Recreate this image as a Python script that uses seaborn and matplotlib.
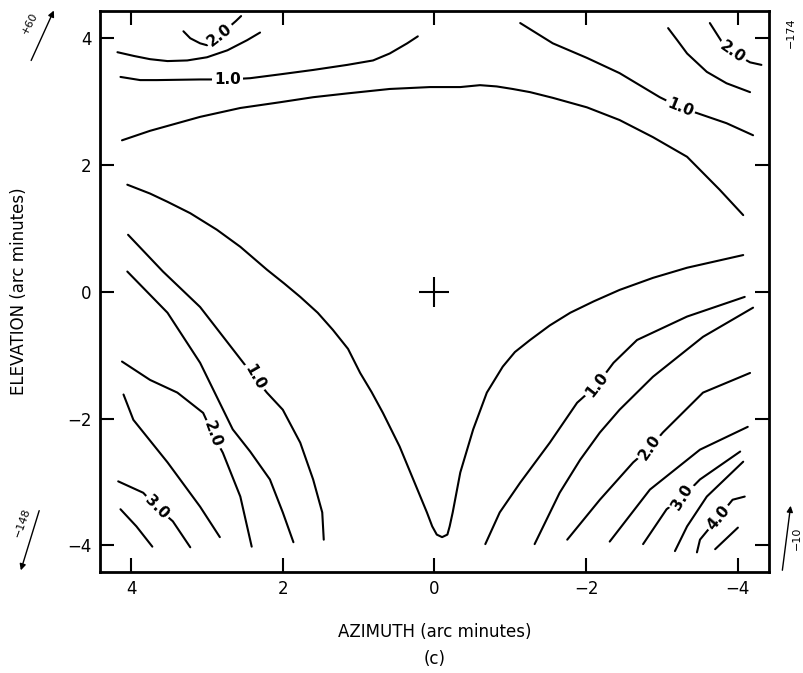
import matplotlib
matplotlib.use("Agg")
import matplotlib.pyplot as plt
import seaborn as sns

# contour traces: azimuth (x) and elevation (y), arc minutes
# 0.5 level, upper arc
c05_top_az = [4.12, 3.75, 3.09, 2.56, 2.04, 1.60, 1.15, 0.59, 0.06, -0.34, -0.60, -0.82,
              -1.03, -1.26, -1.56, -2.01, -2.44, -2.88, -3.33, -3.76, -4.07]
c05_top_el = [2.39, 2.54, 2.76, 2.90, 2.99, 3.07, 3.13, 3.20, 3.23, 3.23, 3.26, 3.24,
              3.20, 3.15, 3.06, 2.91, 2.71, 2.44, 2.13, 1.61, 1.21]
# 0.5 level, lower V
c05_low_az = [4.05, 3.75, 3.52, 3.22, 2.87, 2.56, 2.21, 1.98, 1.77, 1.54, 1.34, 1.14, 0.98,
              0.83, 0.68, 0.46, 0.28, 0.10, 0.03, -0.03, -0.10, -0.17, -0.20, -0.24, -0.34,
              -0.51, -0.69, -0.90, -1.06, -1.26, -1.52, -1.79, -2.10, -2.44, -2.88, -3.33, -4.07]
c05_low_el = [1.69, 1.55, 1.42, 1.24, 0.98, 0.71, 0.35, 0.13, -0.08, -0.33, -0.60, -0.90, -1.28,
              -1.58, -1.91, -2.44, -2.96, -3.48, -3.70, -3.83, -3.87, -3.83, -3.70, -3.48, -2.85,
              -2.17, -1.59, -1.18, -0.95, -0.76, -0.53, -0.33, -0.15, 0.03, 0.22, 0.38, 0.58]

# 1.0 level
c10_tl_az = [4.14, 3.88, 3.66, 3.09, 2.73, 2.43, 2.04, 1.60, 1.15, 0.81, 0.59, 0.36, 0.22]
c10_tl_el = [3.39, 3.34, 3.34, 3.35, 3.35, 3.37, 3.43, 3.50, 3.58, 3.65, 3.76, 3.92, 4.03]
c10_tr_az = [-1.13, -1.56, -2.01, -2.44, -2.97, -3.24, -3.46, -3.85, -4.20]
c10_tr_el = [4.24, 3.92, 3.69, 3.45, 3.07, 2.91, 2.82, 2.66, 2.47]
c10_ll_az = [4.04, 3.58, 3.09, 2.52, 2.37, 2.21, 2.00, 1.77, 1.60, 1.48, 1.46]
c10_ll_el = [0.90, 0.32, -0.24, -1.12, -1.35, -1.59, -1.86, -2.38, -2.96, -3.48, -3.91]
c10_lr_az = [-4.09, -3.33, -2.67, -2.36, -2.14, -1.88, -1.52, -1.13, -0.86, -0.67]
c10_lr_el = [-0.08, -0.39, -0.76, -1.12, -1.47, -1.75, -2.38, -3.01, -3.48, -3.98]

# 1.5 level
c15_tl_az = [4.18, 3.96, 3.75, 3.52, 3.26, 3.00, 2.73, 2.47, 2.30]
c15_tl_el = [3.78, 3.72, 3.67, 3.64, 3.65, 3.70, 3.81, 3.97, 4.09]
c15_tr_az = [-3.08, -3.20, -3.33, -3.59, -3.85, -4.16]
c15_tr_el = [4.16, 3.97, 3.76, 3.47, 3.29, 3.15]
c15_ll_az = [4.05, 3.52, 3.09, 2.66, 2.43, 2.17, 2.00, 1.86]
c15_ll_el = [0.32, -0.33, -1.12, -2.17, -2.52, -2.96, -3.48, -3.95]
c15_lr_az = [-4.20, -3.54, -2.88, -2.44, -2.18, -1.92, -1.65, -1.32]
c15_lr_el = [-0.25, -0.71, -1.34, -1.86, -2.22, -2.65, -3.17, -3.98]

# 2.0 level
c20_tl_az = [3.31, 3.22, 3.09, 3.00, 2.83, 2.62, 2.55]
c20_tl_el = [4.11, 4.00, 3.92, 3.89, 4.05, 4.27, 4.35]
c20_tr_az = [-3.63, -3.79, -3.93, -4.16, -4.31]
c20_tr_el = [4.24, 3.94, 3.78, 3.62, 3.58]
c20_ll_az = [4.12, 3.75, 3.39, 3.05, 2.92, 2.79, 2.56, 2.41]
c20_ll_el = [-1.10, -1.39, -1.59, -1.91, -2.25, -2.54, -3.23, -4.02]
c20_lr_az = [-4.16, -3.54, -3.01, -2.84, -2.62, -2.18, -1.75]
c20_lr_el = [-1.28, -1.59, -2.22, -2.46, -2.69, -3.28, -3.91]

# 2.5 level
c25_ll_az = [4.10, 3.97, 3.52, 3.09, 2.83]
c25_ll_el = [-1.62, -2.02, -2.69, -3.39, -3.87]
c25_lr_az = [-4.13, -3.50, -2.84, -2.31]
c25_lr_el = [-2.13, -2.49, -3.12, -3.94]

# 3.0 level
c30_ll_az = [4.17, 3.84, 3.66, 3.45, 3.22]
c30_ll_el = [-2.99, -3.17, -3.40, -3.62, -4.03]
c30_lr_az = [-4.03, -3.50, -3.27, -3.06, -2.75]
c30_lr_el = [-2.52, -2.96, -3.24, -3.43, -3.98]

# 3.5 level
c35_ll_az = [4.14, 3.93, 3.72]
c35_ll_el = [-3.43, -3.70, -4.02]
c35_lr_az = [-4.07, -3.59, -3.33, -3.17]
c35_lr_el = [-2.68, -3.23, -3.70, -4.09]

# 4.0 and 4.5 levels
c40_lr_az = [-4.09, -3.93, -3.74, -3.50, -3.46]
c40_lr_el = [-3.23, -3.28, -3.56, -3.91, -4.11]
c45_lr_az = [-4.00, -3.70]
c45_lr_el = [-3.72, -4.06]

# contour labels
lab_text = ["2.0", "1.0", "1.0", "2.0", "1.0", "2.0", "3.0", "1.0", "2.0", "3.0", "4.0"]
lab_az = [2.83, 2.73, -3.24, -3.93, 2.37, 2.92, 3.66, -2.14, -2.84, -3.27, -3.74]
lab_el = [4.05, 3.35, 2.91, 3.78, -1.35, -2.25, -3.40, -1.47, -2.46, -3.24, -3.56]
lab_rot = [38, 0, -22, -35, -60, -70, -45, 52, 55, 58, 50]

lines = [
    (c05_top_az, c05_top_el), (c05_low_az, c05_low_el),
    (c10_tl_az, c10_tl_el), (c10_tr_az, c10_tr_el), (c10_ll_az, c10_ll_el), (c10_lr_az, c10_lr_el),
    (c15_tl_az, c15_tl_el), (c15_tr_az, c15_tr_el), (c15_ll_az, c15_ll_el), (c15_lr_az, c15_lr_el),
    (c20_tl_az, c20_tl_el), (c20_tr_az, c20_tr_el), (c20_ll_az, c20_ll_el), (c20_lr_az, c20_lr_el),
    (c25_ll_az, c25_ll_el), (c25_lr_az, c25_lr_el),
    (c30_ll_az, c30_ll_el), (c30_lr_az, c30_lr_el),
    (c35_ll_az, c35_ll_el), (c35_lr_az, c35_lr_el),
    (c40_lr_az, c40_lr_el), (c45_lr_az, c45_lr_el),
]

sns.set_style("ticks")
plt.rcParams['font.family'] = ['DejaVu Sans']
plt.rcParams['text.color'] = 'black'
plt.rcParams['axes.labelcolor'] = 'black'

fig = plt.figure(figsize=(8.04, 6.73), dpi=100)
ax = fig.add_axes([100 / 804, 1 - 572 / 673, 669 / 804, 561 / 673])

for az, el in lines:
    sns.lineplot(x=az, y=el, sort=False, estimator=None, color="black",
                 linewidth=1.5, ax=ax, legend=False)

for t, x, y, r in zip(lab_text, lab_az, lab_el, lab_rot):
    ax.text(x, y, t, rotation=r, ha="center", va="center", fontsize=11,
            fontweight="bold", rotation_mode="anchor",
            bbox=dict(facecolor="white", edgecolor="none", pad=1.5))

# boresight cross
sns.scatterplot(x=[0], y=[0], marker="+", s=480, linewidth=1.5, color="black", ax=ax)

ax.set_xlim(4.41, -4.41)
ax.set_ylim(-4.42, 4.43)
ax.set_xticks([4, 2, 0, -2, -4])
ax.set_yticks([-4, -2, 0, 2, 4])
ax.tick_params(direction="in", length=10, width=1.5, top=True, right=True,
               labelsize=12, pad=6, colors="black")
for s in ax.spines.values():
    s.set_linewidth(2)
    s.set_color("black")

ax.set_xlabel("AZIMUTH (arc minutes)\n(c)", fontsize=12, labelpad=18, linespacing=1.65)
ax.set_ylabel("ELEVATION (arc minutes)", fontsize=12, labelpad=28)

# orientation notes at the corners
fig.text(30, 650, "+60", rotation=62, fontsize=8, ha="center", va="center",
         transform=None)
ax.annotate("", xy=(55, 665), xytext=(30, 610), xycoords="figure pixels",
            textcoords="figure pixels",
            arrowprops=dict(arrowstyle="-|>", color="black", lw=1, mutation_scale=9))
fig.text(791, 640, "\u2212174", rotation=90, fontsize=8, ha="center", va="center",
         transform=None)
fig.text(22, 150, "\u2212148", rotation=70, fontsize=8, ha="center", va="center",
         transform=None)
ax.annotate("", xy=(20, 100), xytext=(40, 165), xycoords="figure pixels",
            textcoords="figure pixels",
            arrowprops=dict(arrowstyle="-|>", color="black", lw=1, mutation_scale=9))
fig.text(797, 135, "\u221210", rotation=90, fontsize=8, ha="center", va="center",
         transform=None)
ax.annotate("", xy=(791, 170), xytext=(782, 100), xycoords="figure pixels",
            textcoords="figure pixels",
            arrowprops=dict(arrowstyle="-|>", color="black", lw=1, mutation_scale=9))

fig.savefig("out.png", dpi=100)
